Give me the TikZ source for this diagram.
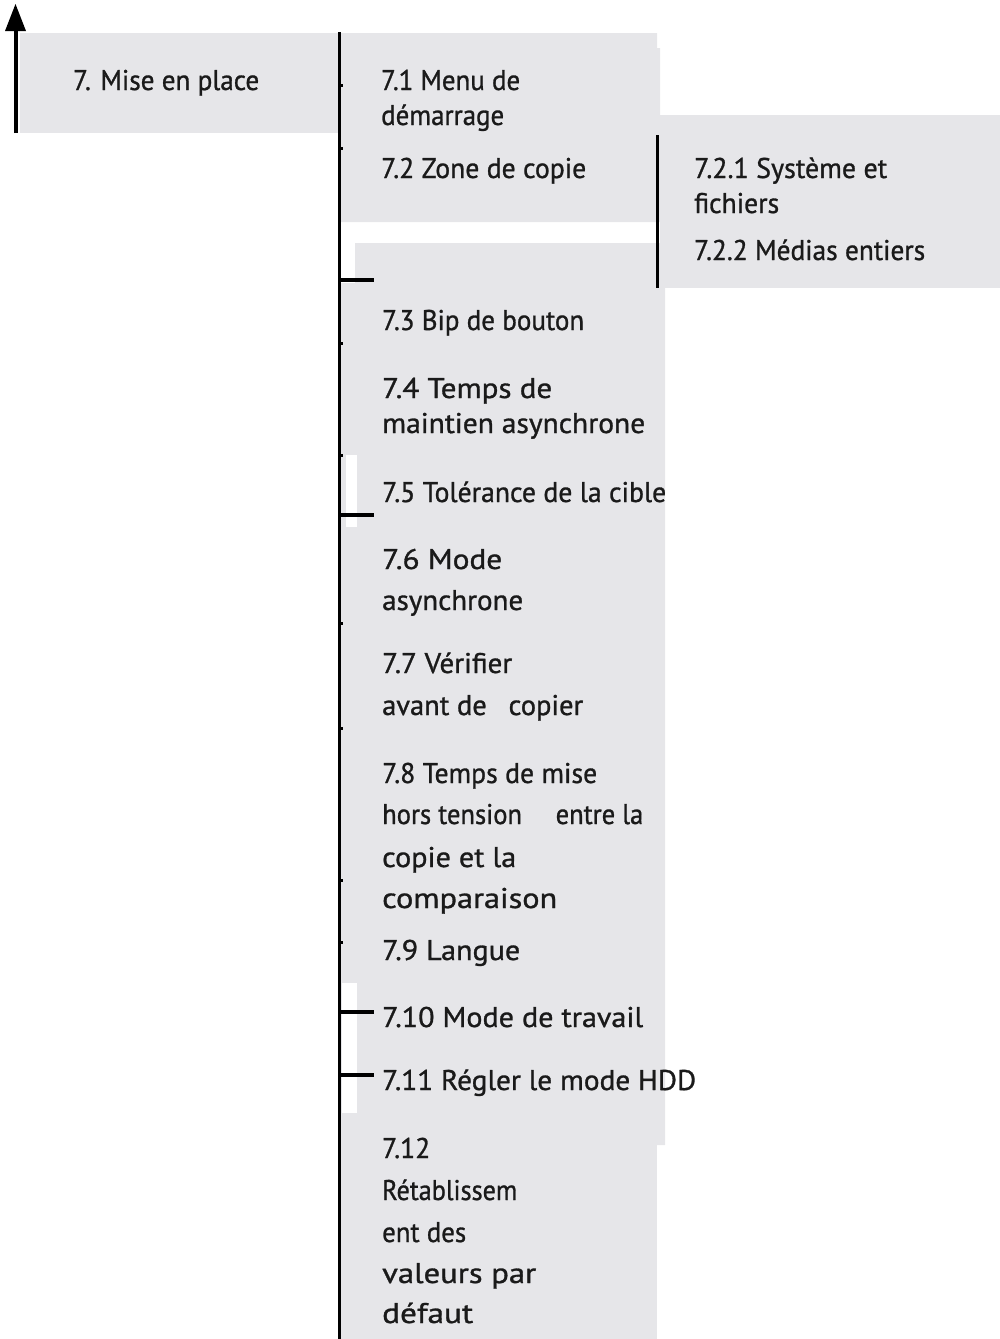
\documentclass[tikz,border=0pt]{standalone}
\usepackage{fontspec}
\setmainfont{PT Sans}[FakeBold=1.0]
\usepackage{graphicx}
\usetikzlibrary{arrows.meta}
\definecolor{boxgray}{HTML}{E6E6E9}
\definecolor{txt}{HTML}{1A1A1A}
\newcommand{\fw}[2]{\resizebox{#1pt}{\height}{#2}}
\tikzset{
  lbl/.style={anchor=base west, inner sep=0pt, text=txt, font=\fontsize{28.5}{30}\selectfont},
  panel/.style={fill=boxgray, draw=none},
  trunk/.style={draw=black, line width=3pt},
  bigtick/.style={draw=black, line width=4pt},
  smalltick/.style={draw=black, line width=3pt}
}
\begin{document}
\begin{tikzpicture}[x=1pt, y=-1pt]
\useasboundingbox (0,0) rectangle (1000,1339);
% panels
\fill[panel] (20,33) rectangle (338,133);
\fill[panel] (340,33) -- (657,33) -- (657,48) -- (660,48) -- (660,222) -- (340,222) -- cycle;
\fill[panel] (660,115) rectangle (1000,288);
\fill[panel] (355,243) -- (665,243) -- (665,1145) -- (341,1145) -- (341,283) -- (355,283) -- cycle;
\fill[white] (346,455) rectangle (357,527);
\fill[white] (342,983) rectangle (357,1113);
\fill[panel] (341,1145) rectangle (657,1339);
% coordinates
\coordinate (arrowbot) at (15.5,133);
\coordinate (arrowbase) at (15.5,31);
\coordinate (arrowtop) at (15.5,4);
\coordinate (trunktop) at (339,32);
\coordinate (trunkbot) at (339,1339);
\coordinate (subtop) at (657,135);
\coordinate (subbot) at (657,288);
% arrow
\draw[line width=4pt] (arrowbot) -- (arrowbase);
\fill[black] (arrowtop) -- ([xshift=-10.5pt]arrowbase) -- ([xshift=10.5pt]arrowbase) -- cycle;
% trunk lines
\draw[trunk] (trunktop) -- (trunkbot);
\draw[trunk] (subtop) -- (subbot);
% ticks
\foreach \yy/\nm in {280/ta, 515/tb, 1012/tc, 1075/td} {
  \coordinate (\nm s) at (338,\yy);
  \coordinate (\nm e) at (374,\yy);
  \draw[bigtick] (\nm s) -- (\nm e);
}
\foreach \yy/\nm in {85/sa, 148/sb, 343/sc, 455/sd, 623/se, 728/sf, 880/sg, 942/sh} {
  \coordinate (\nm s) at (339,\yy);
  \coordinate (\nm e) at (343,\yy);
  \draw[smalltick] (\nm s) -- (\nm e);
}
% texts
\node[lbl] (t7) at (73,90) {\fw{186}{7. Mise en place}};
\node[lbl] (t71a) at (381,90) {\fw{139}{7.1 Menu de}};
\node[lbl] (t71b) at (381,125) {\fw{123}{démarrage}};
\node[lbl] (t72) at (381,178) {\fw{205}{7.2 Zone de copie}};
\node[lbl] (t721a) at (694,178) {\fw{193}{7.2.1 Système et}};
\node[lbl] (t721b) at (694,213) {\fw{85}{fichiers}};
\node[lbl] (t722) at (694,260) {\fw{231}{7.2.2 Médias entiers}};
\node[lbl] (t73) at (382,330) {\fw{202}{7.3 Bip de bouton}};
\node[lbl] (t74a) at (382,398) {\fw{170}{7.4 Temps de}};
\node[lbl] (t74b) at (382,433) {\fw{263}{maintien asynchrone}};
\node[lbl] (t75) at (382,502) {\fw{284}{7.5 Tolérance de la cible}};
\node[lbl] (t76a) at (382,569) {\fw{120}{7.6 Mode}};
\node[lbl] (t76b) at (382,610) {\fw{141}{asynchrone}};
\node[lbl] (t77a) at (382,673) {\fw{130}{7.7 Vérifier}};
\node[lbl] (t77b) at (382,715) {\fw{201}{avant de\hspace{0.5em} copier}};
\node[lbl] (t78a) at (382,783) {\fw{215}{7.8 Temps de mise}};
\node[lbl] (t78b) at (382,824) {\fw{261}{hors tension\hspace{1em} entre la}};
\node[lbl] (t78c) at (382,867) {\fw{134}{copie et la}};
\node[lbl] (t78d) at (382,908) {\fw{175}{comparaison}};
\node[lbl] (t79) at (382,960) {\fw{138}{7.9 Langue}};
\node[lbl] (t710) at (382,1027) {\fw{261}{7.10 Mode de travail}};
\node[lbl] (t711) at (382,1090) {\fw{314}{7.11 Régler le mode HDD}};
\node[lbl] (t712a) at (382,1158) {\fw{48}{7.12}};
\node[lbl] (t712b) at (382,1200) {\fw{135}{Rétablissem}};
\node[lbl] (t712c) at (382,1242) {\fw{84}{ent des}};
\node[lbl] (t712d) at (382,1283) {\fw{154}{valeurs par}};
\node[lbl] (t712e) at (382,1323) {\fw{91}{défaut}};
\end{tikzpicture}
\end{document}
